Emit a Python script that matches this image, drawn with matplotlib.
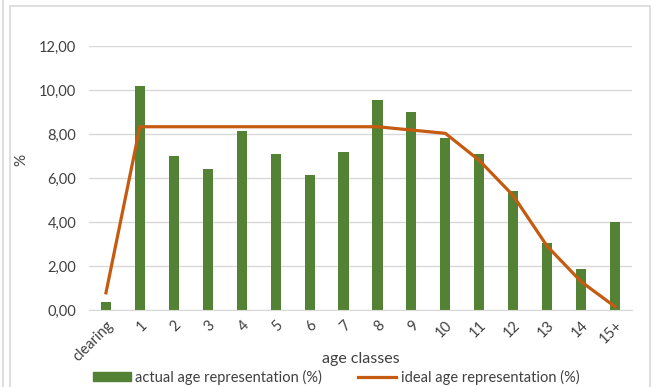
import matplotlib
matplotlib.use('Agg')
import matplotlib.pyplot as plt
from matplotlib.patches import Rectangle, Patch
from matplotlib.lines import Line2D

# age classes and the two series (%)
classes = ['clearing', '1', '2', '3', '4', '5', '6', '7', '8', '9', '10',
           '11', '12', '13', '14', '15+']
actual = [0.38, 10.18, 7.0, 6.41, 8.12, 7.1, 6.14, 7.2, 9.55, 9.02, 7.8,
          7.08, 5.39, 3.05, 1.86, 4.0]
ideal = [0.78, 8.33, 8.33, 8.33, 8.33, 8.33, 8.33, 8.33, 8.33, 8.18, 8.03,
         6.8, 5.2, 2.9, 1.29, 0.15]
yticks = [0, 2, 4, 6, 8, 10, 12]

green = '#548235'
orange = '#C55A11'
grid = '#D9D9D9'

plt.rcParams['font.family'] = ['Lato', 'DejaVu Sans']

fig = plt.figure(figsize=(6.54, 3.87), dpi=100)
W, H = 654, 387

# chart frame
fig.patches.append(Rectangle((10 / W, -0.1), 640 / W, 1.1 - 6 / H,
                             transform=fig.transFigure, fill=False,
                             edgecolor=grid, lw=1.2))
fig.add_artist(Line2D([3 / W, 3 / W], [0, 1], transform=fig.transFigure,
                      color=grid, lw=1.2))

ax = fig.add_axes([89 / W, 1 - 310 / H, 543 / W, 264 / H])
x = list(range(len(classes)))
ax.bar(x, actual, width=0.3, color=green, zorder=2)
ax.plot(x, ideal, color=orange, lw=2.3, zorder=3, solid_joinstyle='round')

ax.set_xlim(-0.5, len(classes) - 0.5)
ax.set_ylim(0, 12)
ax.set_yticks(yticks)
ax.set_yticklabels([f'{v:.2f}'.replace('.', ',') for v in yticks],
                   fontsize=10.5, color='#404040')
ax.set_xticks(x)
ax.set_xticklabels(classes, rotation=45, ha='right', rotation_mode='anchor',
                   fontsize=10.5, color='#404040')
ax.tick_params(length=0)
ax.tick_params(axis='y', pad=9)
ax.tick_params(axis='x', pad=6)
ax.yaxis.grid(True, color=grid, lw=1)
ax.set_axisbelow(True)
for s in ['top', 'right', 'left']:
    ax.spines[s].set_visible(False)
ax.spines['bottom'].set_color(grid)

ax.set_ylabel('%', fontsize=11, color='#404040')
ax.yaxis.set_label_coords(-0.112, 0.57)
ax.set_xlabel('age classes', fontsize=11.5, color='#404040')
ax.xaxis.set_label_coords(0.5, -0.16)

handles = [Patch(color=green), Line2D([], [], color=orange, lw=2.3)]
labels = ['actual age representation (%)', 'ideal age representation (%)']
fig.legend(handles, labels, loc='center', bbox_to_anchor=(336 / W, 10 / H),
           ncol=2, frameon=False, fontsize=10.5, handlelength=2.6,
           handleheight=0.6, handletextpad=0.3, columnspacing=2.5,
           labelcolor='#404040')

fig.savefig('out.png', dpi=100)
